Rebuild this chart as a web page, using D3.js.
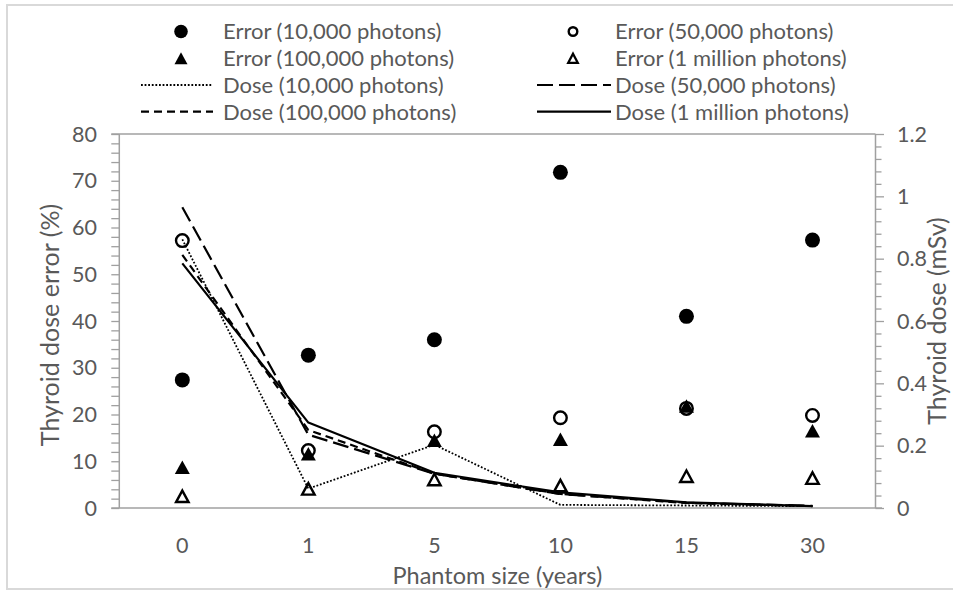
<!DOCTYPE html>
<html>
<head>
<meta charset="utf-8">
<script src="https://cdn.jsdelivr.net/npm/d3@7"></script>
<style>
  html, body { margin: 0; padding: 0; background: #fff; }
  svg { display: block; }
  text { font-family: Lato, "Open Sans", sans-serif; fill: #595959; }
</style>
</head>
<body>
<svg id="chart" width="953" height="590"></svg>
<script>
// Phantom sizes (years) along the category axis
const categories = ["0", "1", "5", "10", "15", "30"];

// Thyroid dose error (%) per photon count — left axis
const error10k  = [27.4, 32.7, 36.0, 71.8, 41.0, 57.3];
const error50k  = [57.2, 12.3, 16.3, 19.3, 21.3, 19.8];
const error100k = [8.7, 11.6, 14.5, 14.7, 21.8, 16.5];
const error1M   = [2.5, 4.1, 6.1, 4.8, 6.8, 6.4];

// Thyroid dose (mSv) per photon count — right axis
const dose10k  = [0.862, 0.062, 0.203, 0.010, 0.008, 0.006];
const dose50k  = [0.965, 0.235, 0.110, 0.045, 0.017, 0.007];
const dose100k = [0.812, 0.250, 0.110, 0.045, 0.016, 0.006];
const dose1M   = [0.785, 0.274, 0.113, 0.050, 0.018, 0.006];

// Axis ticks
const leftTicks  = [0, 10, 20, 30, 40, 50, 60, 70, 80];
const rightTicks = [0, 0.2, 0.4, 0.6, 0.8, 1, 1.2];

const svg = d3.select("#chart");
const W = 953, H = 590;
const plot = { left: 119.3, right: 875.5, top: 134, bottom: 508 };
const axisColor = "#a0a0a0";

// Outer chart frame
svg.append("rect")
  .attr("x", 7).attr("y", 5).attr("width", W).attr("height", H - 6)
  .attr("fill", "#fff").attr("stroke", "#d9d9d9").attr("stroke-width", 2);

const x = d3.scaleBand().domain(categories).range([plot.left, plot.right]).padding(0);
const cx = d => x(d) + x.bandwidth() / 2;
const yL = d3.scaleLinear().domain([0, 80]).range([plot.bottom, plot.top]);
const yR = d3.scaleLinear().domain([0, 1.2]).range([plot.bottom, plot.top]);

// Left axis with minor ticks every 2 %
const leftAxis = d3.axisLeft(yL)
  .tickValues(d3.range(0, 80.001, 2))
  .tickSize(8).tickFormat("");
const gL = svg.append("g").attr("transform", `translate(${plot.left},0)`).call(leftAxis);
gL.select(".domain").remove();
gL.selectAll(".tick line").attr("stroke", axisColor).attr("stroke-width", 1.3);
svg.append("line")
  .attr("x1", plot.left).attr("x2", plot.left)
  .attr("y1", plot.top).attr("y2", plot.bottom)
  .attr("stroke", axisColor).attr("stroke-width", 1.5);

svg.append("g").selectAll("text").data(leftTicks).join("text")
  .attr("x", 97).attr("y", d => yL(d)).attr("dy", "0.36em")
  .attr("text-anchor", "end").attr("font-size", 21.5)
  .text(d => d);

// Right axis with minor ticks every 0.04 mSv
const minorR = d3.range(0, 31).map(i => +(i * 0.04).toFixed(2));
const gR = svg.append("g").attr("transform", `translate(${plot.right},0)`);
gR.call(d3.axisRight(yR).tickValues(minorR).tickFormat("")
  .tickSize(6));
gR.select(".domain").remove();
gR.selectAll(".tick line")
  .attr("x2", d => rightTicks.some(t => Math.abs(t - d) < 1e-6) ? 8.5 : 6)
  .attr("stroke", axisColor).attr("stroke-width", 1.3);
svg.append("line")
  .attr("x1", plot.right).attr("x2", plot.right)
  .attr("y1", plot.top).attr("y2", plot.bottom)
  .attr("stroke", axisColor).attr("stroke-width", 1.5);

svg.append("g").selectAll("text").data(rightTicks).join("text")
  .attr("x", 897).attr("y", d => yR(d)).attr("dy", "0.36em")
  .attr("text-anchor", "start").attr("font-size", 21.5)
  .text(d => d3.format("~g")(d));

// Top frame line and category axis baseline
svg.append("line")
  .attr("x1", plot.left - 8).attr("x2", plot.right)
  .attr("y1", plot.top).attr("y2", plot.top)
  .attr("stroke", axisColor).attr("stroke-width", 1.5);
const xAxis = d3.axisBottom(x).tickSize(0).tickPadding(0);
const gX = svg.append("g").attr("transform", `translate(0,${plot.bottom})`).call(xAxis);
gX.select(".domain").remove();
gX.selectAll(".tick text")
  .attr("y", 37).attr("dy", "0.36em")
  .attr("font-size", 21.5).attr("font-family", "Lato, sans-serif").attr("fill", "#595959");
svg.append("line")
  .attr("x1", plot.left - 8).attr("x2", plot.right + 6.5)
  .attr("y1", plot.bottom).attr("y2", plot.bottom)
  .attr("stroke", axisColor).attr("stroke-width", 1.5);

// Axis titles
svg.append("text")
  .attr("x", (plot.left + plot.right) / 2).attr("y", 576).attr("dy", "0.36em")
  .attr("text-anchor", "middle").attr("font-size", 23.5)
  .text("Phantom size (years)");
svg.append("text")
  .attr("transform", `translate(50,${(plot.top + plot.bottom) / 2 + 4}) rotate(-90)`)
  .attr("dy", "0.36em").attr("text-anchor", "middle").attr("font-size", 25)
  .text("Thyroid dose error (%)");
svg.append("text")
  .attr("transform", `translate(937,${(plot.top + plot.bottom) / 2}) rotate(-90)`)
  .attr("dy", "0.36em").attr("text-anchor", "middle").attr("font-size", 25)
  .text("Thyroid dose (mSv)");

// Marker shapes
function triPath(w, h) {
  return `M0,${-h / 2}L${w / 2},${h / 2}L${-w / 2},${h / 2}Z`;
}
const markerStyles = {
  filledCircle: g => g.append("circle").attr("r", 7.5).attr("fill", "#000"),
  openCircle:   g => g.append("circle").attr("r", 6.3).attr("fill", "none")
                      .attr("stroke", "#000").attr("stroke-width", 2.4),
  filledTri:    g => g.append("path").attr("d", triPath(15, 13.5)).attr("fill", "#000"),
  openTri:      g => g.append("path").attr("d", triPath(12.5, 11.5)).attr("fill", "none")
                      .attr("stroke", "#000").attr("stroke-width", 2.4).attr("stroke-linejoin", "miter")
};
const legendMarkers = {
  filledCircle: g => g.append("circle").attr("r", 6.8).attr("fill", "#000"),
  openCircle:   g => g.append("circle").attr("r", 4.3).attr("fill", "none")
                      .attr("stroke", "#000").attr("stroke-width", 2.4),
  filledTri:    g => g.append("path").attr("d", triPath(13, 12)).attr("fill", "#000"),
  openTri:      g => g.append("path").attr("d", triPath(9.5, 9)).attr("fill", "none")
                      .attr("stroke", "#000").attr("stroke-width", 2.3)
};

const errorSeries = [
  { name: "Error (10,000 photons)",    values: error10k,  marker: "filledCircle" },
  { name: "Error (50,000 photons)",    values: error50k,  marker: "openCircle" },
  { name: "Error (100,000 photons)",   values: error100k, marker: "filledTri" },
  { name: "Error (1 million photons)", values: error1M,   marker: "openTri" }
];
const doseSeries = [
  { name: "Dose (10,000 photons)",    values: dose10k,  dash: "1.8,1.8", width: 1.8 },
  { name: "Dose (50,000 photons)",    values: dose50k,  dash: "16,6",    width: 2.2 },
  { name: "Dose (100,000 photons)",   values: dose100k, dash: "8,5",     width: 2.2 },
  { name: "Dose (1 million photons)", values: dose1M,   dash: null,      width: 2.2 }
];

// Error markers (left axis)
errorSeries.forEach(s => {
  const g = svg.append("g");
  s.values.forEach((v, i) => {
    const m = g.append("g").attr("transform", `translate(${cx(categories[i])},${yL(v)})`);
    markerStyles[s.marker](m);
  });
});

// Dose lines (right axis)
const line = d3.line().x((d, i) => cx(categories[i])).y(d => yR(d));
doseSeries.forEach(s => {
  svg.append("path").datum(s.values)
    .attr("d", line).attr("fill", "none")
    .attr("stroke", "#000").attr("stroke-width", s.width)
    .attr("stroke-dasharray", s.dash)
    .attr("stroke-linejoin", "round");
});

// Legend: two columns, four rows
const legendRows = [31.5, 58.3, 85, 111.7];
const cols = [
  { marker: 181, lineX1: 141, lineX2: 213, text: 223 },
  { marker: 573, lineX1: 537, lineX2: 611, text: 615 }
];
const legendItems = [
  { s: errorSeries[0], col: 0, row: 0 }, { s: errorSeries[1], col: 1, row: 0 },
  { s: errorSeries[2], col: 0, row: 1 }, { s: errorSeries[3], col: 1, row: 1 },
  { s: doseSeries[0],  col: 0, row: 2 }, { s: doseSeries[1],  col: 1, row: 2 },
  { s: doseSeries[2],  col: 0, row: 3 }, { s: doseSeries[3],  col: 1, row: 3 }
];
const legend = svg.append("g");
legendItems.forEach(({ s, col, row }) => {
  const c = cols[col], y = legendRows[row];
  if (s.marker) {
    legendMarkers[s.marker](legend.append("g").attr("transform", `translate(${c.marker},${y})`));
  } else {
    legend.append("line")
      .attr("x1", c.lineX1).attr("x2", c.lineX2).attr("y1", y).attr("y2", y)
      .attr("stroke", "#000").attr("stroke-width", s.width)
      .attr("stroke-dasharray", s.dash);
  }
  legend.append("text")
    .attr("x", c.text).attr("y", y).attr("dy", "0.36em")
    .attr("font-size", 22).text(s.name);
});
</script>
</body>
</html>
